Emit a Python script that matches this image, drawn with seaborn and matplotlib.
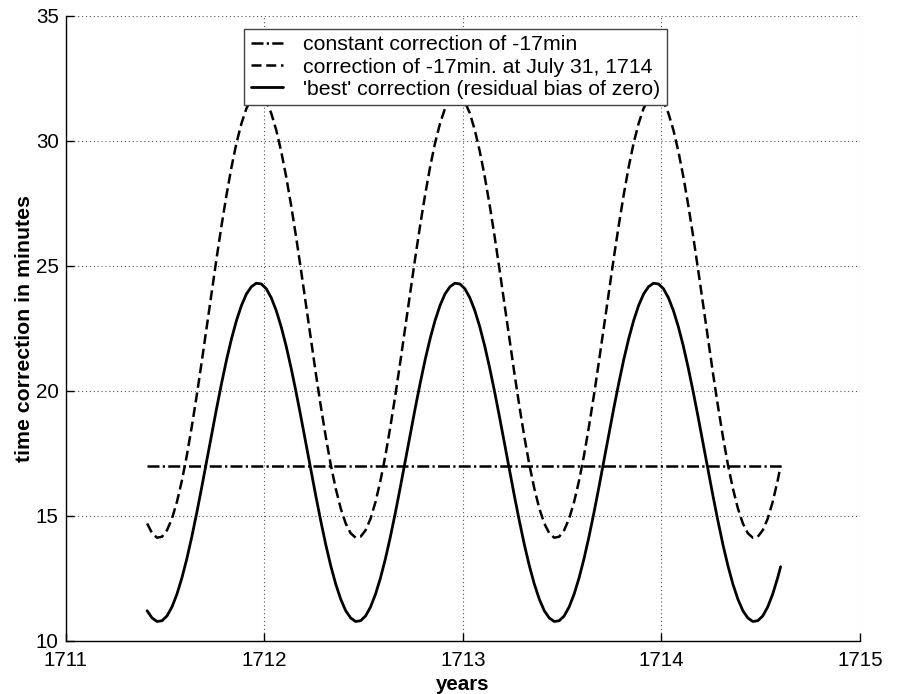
import numpy as np
import pandas as pd
import matplotlib
matplotlib.use("Agg")
import matplotlib.pyplot as plt
import seaborn as sns

# Sample dates (decimal years)
years = [
    1711.410, 1711.435, 1711.460, 1711.485, 1711.510, 1711.535, 1711.560, 1711.585,
    1711.610, 1711.635, 1711.660, 1711.685, 1711.710, 1711.735, 1711.760, 1711.785,
    1711.810, 1711.835, 1711.860, 1711.885, 1711.910, 1711.935, 1711.960, 1711.985,
    1712.010, 1712.035, 1712.060, 1712.085, 1712.110, 1712.135, 1712.160, 1712.185,
    1712.210, 1712.235, 1712.260, 1712.285, 1712.310, 1712.335, 1712.360, 1712.385,
    1712.410, 1712.435, 1712.460, 1712.485, 1712.510, 1712.535, 1712.560, 1712.585,
    1712.610, 1712.635, 1712.660, 1712.685, 1712.710, 1712.735, 1712.760, 1712.785,
    1712.810, 1712.835, 1712.860, 1712.885, 1712.910, 1712.935, 1712.960, 1712.985,
    1713.010, 1713.035, 1713.060, 1713.085, 1713.110, 1713.135, 1713.160, 1713.185,
    1713.210, 1713.235, 1713.260, 1713.285, 1713.310, 1713.335, 1713.360, 1713.385,
    1713.410, 1713.435, 1713.460, 1713.485, 1713.510, 1713.535, 1713.560, 1713.585,
    1713.610, 1713.635, 1713.660, 1713.685, 1713.710, 1713.735, 1713.760, 1713.785,
    1713.810, 1713.835, 1713.860, 1713.885, 1713.910, 1713.935, 1713.960, 1713.985,
    1714.010, 1714.035, 1714.060, 1714.085, 1714.110, 1714.135, 1714.160, 1714.185,
    1714.210, 1714.235, 1714.260, 1714.285, 1714.310, 1714.335, 1714.360, 1714.385,
    1714.410, 1714.435, 1714.460, 1714.485, 1714.510, 1714.535, 1714.560, 1714.585,
    1714.600,
]

# 'best' correction (residual bias of zero), minutes
best_corr = [
    11.21, 10.92, 10.78, 10.81, 11.00, 11.36, 11.87, 12.52,
    13.29, 14.17, 15.13, 16.15, 17.20, 18.27, 19.31, 20.31,
    21.25, 22.09, 22.82, 23.42, 23.88, 24.17, 24.31, 24.28,
    24.09, 23.73, 23.22, 22.57, 21.80, 20.92, 19.96, 18.94,
    17.89, 16.82, 15.78, 14.78, 13.84, 13.00, 12.27, 11.67,
    11.21, 10.92, 10.78, 10.81, 11.00, 11.36, 11.87, 12.52,
    13.29, 14.17, 15.13, 16.15, 17.20, 18.27, 19.31, 20.31,
    21.25, 22.09, 22.82, 23.42, 23.88, 24.17, 24.31, 24.28,
    24.09, 23.73, 23.22, 22.57, 21.80, 20.92, 19.96, 18.94,
    17.89, 16.82, 15.78, 14.78, 13.84, 13.00, 12.27, 11.67,
    11.21, 10.92, 10.78, 10.81, 11.00, 11.36, 11.87, 12.52,
    13.29, 14.17, 15.13, 16.15, 17.20, 18.27, 19.31, 20.31,
    21.25, 22.09, 22.82, 23.42, 23.88, 24.17, 24.31, 24.28,
    24.09, 23.73, 23.22, 22.57, 21.80, 20.92, 19.96, 18.94,
    17.89, 16.82, 15.78, 14.78, 13.84, 13.00, 12.27, 11.67,
    11.21, 10.92, 10.78, 10.81, 11.00, 11.36, 11.87, 12.52,
    12.97,
]

# correction of -17 min. at July 31, 1714, minutes
july_corr = [
    14.70, 14.31, 14.13, 14.17, 14.43, 14.89, 15.56, 16.41,
    17.42, 18.58, 19.83, 21.17, 22.55, 23.95, 25.32, 26.63,
    27.85, 28.96, 29.92, 30.70, 31.30, 31.69, 31.87, 31.83,
    31.57, 31.11, 30.44, 29.59, 28.58, 27.43, 26.17, 24.83,
    23.45, 22.05, 20.68, 19.37, 18.15, 17.04, 16.09, 15.30,
    14.70, 14.31, 14.13, 14.17, 14.43, 14.89, 15.56, 16.41,
    17.42, 18.58, 19.83, 21.17, 22.55, 23.95, 25.32, 26.63,
    27.85, 28.96, 29.92, 30.70, 31.30, 31.69, 31.87, 31.83,
    31.57, 31.11, 30.44, 29.59, 28.58, 27.43, 26.17, 24.83,
    23.45, 22.05, 20.68, 19.37, 18.15, 17.04, 16.09, 15.30,
    14.70, 14.31, 14.13, 14.17, 14.43, 14.89, 15.56, 16.41,
    17.42, 18.58, 19.83, 21.17, 22.55, 23.95, 25.32, 26.63,
    27.85, 28.96, 29.92, 30.70, 31.30, 31.69, 31.87, 31.83,
    31.57, 31.11, 30.44, 29.59, 28.58, 27.43, 26.17, 24.83,
    23.45, 22.05, 20.68, 19.37, 18.15, 17.04, 16.09, 15.30,
    14.70, 14.31, 14.13, 14.17, 14.43, 14.89, 15.56, 16.41,
    17.00,
]

# constant correction, minutes
const_value = 17.0

labels = [
    "constant correction of -17min",
    "correction of -17min. at July 31, 1714",
    "'best' correction (residual bias of zero)",
]
x_ticks = [1711, 1712, 1713, 1714, 1715]
y_ticks = [10, 15, 20, 25, 30, 35]

sns.set_theme(style="white")
plt.rcParams["font.family"] = ["Liberation Sans", "DejaVu Sans"]
plt.rcParams.update({
    "axes.edgecolor": "black",
    "axes.linewidth": 1.0,
    "text.color": "black",
    "axes.labelcolor": "black",
    "xtick.color": "black",
    "ytick.color": "black",
})

df = pd.DataFrame({
    "year": years,
    "const": [const_value] * len(years),
    "july": july_corr,
    "best": best_corr,
})

fig = plt.figure(figsize=(9.0, 6.94), dpi=100)
ax = fig.add_axes([0.073, 0.0764, 0.8826, 0.9006])

sns.lineplot(data=df, x="year", y="const", ax=ax, color="black", lw=1.8,
             label=labels[0], sort=False)
sns.lineplot(data=df, x="year", y="july", ax=ax, color="black", lw=1.8,
             label=labels[1], sort=False)
sns.lineplot(data=df, x="year", y="best", ax=ax, color="black", lw=2.0,
             label=labels[2], sort=False)
lines = ax.get_lines()
lines[0].set_dashes([4.8, 1.3, 0.9, 1.3])
lines[1].set_dashes([4.0, 1.9])

ax.set_xlim(1711, 1715)
ax.set_ylim(10, 35)
ax.set_xticks(x_ticks)
ax.set_yticks(y_ticks)
ax.set_xticklabels([str(t) for t in x_ticks])
ax.set_yticklabels([str(t) for t in y_ticks])
ax.tick_params(direction="in", length=6, width=1, labelsize=14.8,
               colors="black", bottom=True, left=True, top=False, right=False)
ax.tick_params(axis="x", pad=7)
ax.tick_params(axis="y", pad=5)

ax.grid(True, color="#555555", linestyle=(0, (1, 2.5)), linewidth=0.8)
ax.set_axisbelow(True)
for side in ("top", "right"):
    ax.spines[side].set_visible(False)

ax.set_xlabel("years", fontsize=14.8, fontweight="bold", labelpad=3.5)
ax.set_ylabel("time correction in minutes", fontsize=15.3, fontweight="bold",
              labelpad=1)

leg = ax.legend(loc="upper center", bbox_to_anchor=(0.4907, 0.979),
                fontsize=15.3, frameon=True, fancybox=False, handlelength=1.5,
                handletextpad=0.95, borderpad=0.3, labelspacing=0.15,
                borderaxespad=0)
leg.get_frame().set_edgecolor("#444444")
leg.get_frame().set_linewidth(1.0)
leg.get_frame().set_alpha(1.0)
leg.set_zorder(10)

fig.savefig("out.png", dpi=100)
